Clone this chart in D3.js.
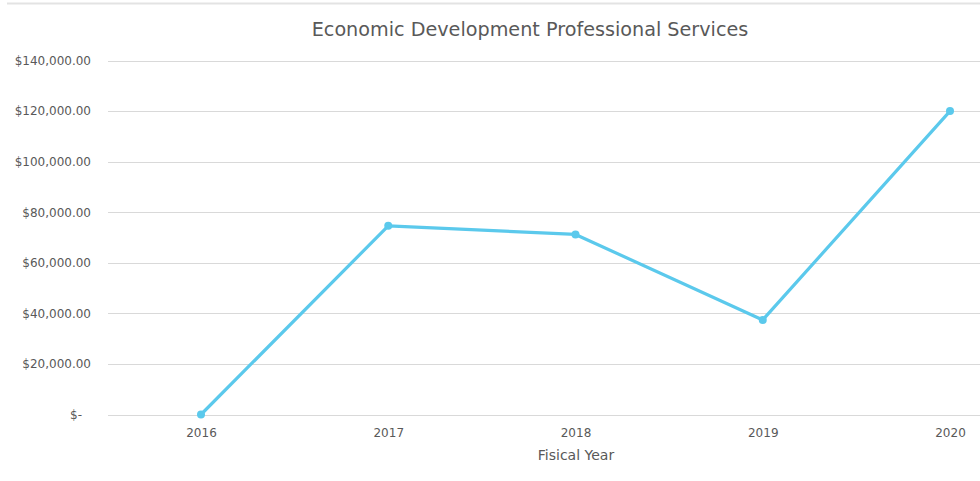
<!DOCTYPE html>
<html><head><meta charset="utf-8">
<script src="https://cdn.jsdelivr.net/npm/d3@7/dist/d3.min.js"></script>
<style>
html,body{margin:0;padding:0;background:#fff;}
svg{display:block;font-family:"DejaVu Sans",sans-serif;}
</style></head>
<body><svg id="c" width="980" height="481"></svg>
<script>
const years = ["2016","2017","2018","2019","2020"];
const values = [0, 74600, 71200, 37400, 120000];
const yTicks = [0, 20000, 40000, 60000, 80000, 100000, 120000, 140000];
const yTickLabels = ["$-", "$20,000.00", "$40,000.00", "$60,000.00", "$80,000.00", "$100,000.00", "$120,000.00", "$140,000.00"];
const title = "Economic Development Professional Services";
const xTitle = "Fisical Year";

const FONT = "'DejaVu Sans',sans-serif";
const svg = d3.select("#c");
const x = d3.scalePoint().domain(years).range([201, 950]);
const y = d3.scaleLinear().domain([0, 140000]).range([414.5, 60.5]);

// top border line
svg.append("line").attr("x1", 7).attr("x2", 980).attr("y1", 3.5).attr("y2", 3.5)
  .attr("stroke", "#e3e3e3").attr("stroke-width", 2);

// y axis labels
const yAxis = d3.axisLeft(y).tickValues(yTicks).tickSize(0)
  .tickFormat((d, i) => yTickLabels[i]);
const gy = svg.append("g").attr("transform", "translate(91,0)").call(yAxis);
gy.select(".domain").remove();
gy.selectAll("text").attr("fill", "#595959").attr("font-size", 12)
  .attr("font-family", FONT).attr("x", 0)
  .attr("dx", (d) => d === 0 ? -9 : 0);

// gridlines
svg.append("g").selectAll("line").data(yTicks).join("line")
  .attr("x1", 108).attr("x2", 980)
  .attr("y1", d => Math.round(y(d)) + 0.5).attr("y2", d => Math.round(y(d)) + 0.5)
  .attr("stroke", "#d9d9d9").attr("stroke-width", 1);

// x axis labels
const xAxis = d3.axisBottom(x).tickSize(0);
const gx = svg.append("g").attr("transform", "translate(0,414)").call(xAxis);
gx.select(".domain").remove();
gx.selectAll("text").attr("fill", "#595959").attr("font-size", 12)
  .attr("font-family", FONT).attr("y", 23).attr("dy", 0);

// axis title
svg.append("text").attr("x", 576).attr("y", 460).attr("text-anchor", "middle")
  .attr("fill", "#595959").attr("font-size", 14).text(xTitle);

// chart title
svg.append("text").attr("x", 530).attr("y", 36).attr("text-anchor", "middle")
  .attr("fill", "#595959").attr("font-size", 19.2).text(title);

// line
const data = years.map((yr, i) => ({yr, v: values[i]}));
svg.append("path").datum(data)
  .attr("fill", "none").attr("stroke", "#5bc9ec").attr("stroke-width", 3.2)
  .attr("stroke-linejoin", "round").attr("stroke-linecap", "round")
  .attr("d", d3.line().x(d => x(d.yr)).y(d => y(d.v)));

svg.append("g").selectAll("circle").data(data).join("circle")
  .attr("cx", d => x(d.yr)).attr("cy", d => y(d.v)).attr("r", 4)
  .attr("fill", "#5bc9ec");
</script></body></html>
